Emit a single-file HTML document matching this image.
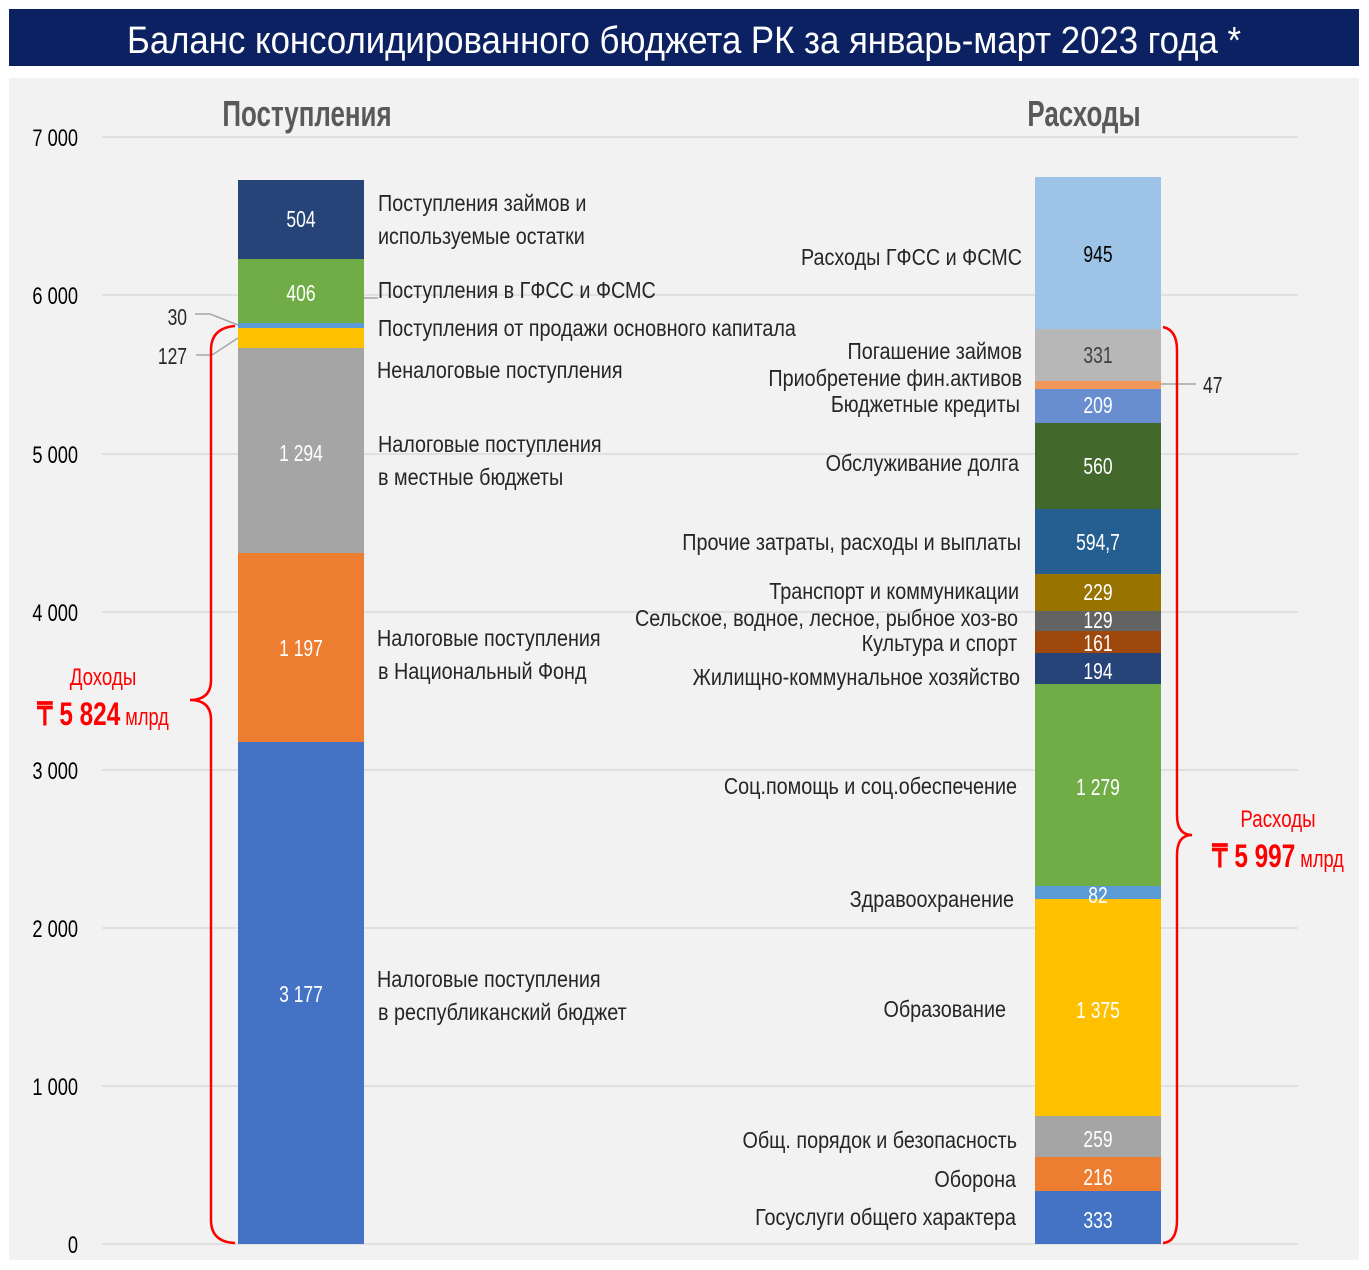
<!DOCTYPE html>
<html><head><meta charset="utf-8"><style>
body{margin:0;background:#fff;}
svg{display:block;font-family:"Liberation Sans Narrow","Liberation Sans",sans-serif;}
</style></head><body>
<svg width="1369" height="1270" viewBox="0 0 1369 1270" xmlns="http://www.w3.org/2000/svg">
<rect x="9" y="9" width="1350" height="57" fill="#0b2161"/>
<text transform="translate(684,53) scale(0.915,1)" text-anchor="middle" fill="#fff" font-size="38">Баланс консолидированного бюджета РК за январь-март 2023 года *</text>
<rect x="9" y="78" width="1350" height="1182" fill="#f2f2f2"/>
<g stroke="#d9d9d9" stroke-width="1.5">
<line x1="102" x2="1298" y1="137" y2="137"/><line x1="102" x2="1298" y1="295" y2="295"/><line x1="102" x2="1298" y1="454" y2="454"/><line x1="102" x2="1298" y1="612" y2="612"/><line x1="102" x2="1298" y1="770" y2="770"/><line x1="102" x2="1298" y1="928" y2="928"/><line x1="102" x2="1298" y1="1086" y2="1086"/><line x1="102" x2="1298" y1="1244" y2="1244"/>
</g>
<g font-size="24" fill="#000" text-anchor="end">
<text transform="translate(78,146) scale(0.76,1)">7 000</text><text transform="translate(78,304) scale(0.76,1)">6 000</text><text transform="translate(78,463) scale(0.76,1)">5 000</text><text transform="translate(78,621) scale(0.76,1)">4 000</text><text transform="translate(78,779) scale(0.76,1)">3 000</text><text transform="translate(78,937) scale(0.76,1)">2 000</text><text transform="translate(78,1095) scale(0.76,1)">1 000</text><text transform="translate(78,1253) scale(0.76,1)">0</text>
</g>
<g font-size="36" font-weight="bold" fill="#595959" text-anchor="middle">
<text transform="translate(307,126) scale(0.72,1)">Поступления</text>
<text transform="translate(1084,126) scale(0.72,1)">Расходы</text>
</g>
<!-- left bar -->
<rect x="238" y="742" width="126" height="502" fill="#4472c4"/>
<rect x="238" y="553" width="126" height="189" fill="#ed7d31"/>
<rect x="238" y="348" width="126" height="205" fill="#a5a5a5"/>
<rect x="238" y="328" width="126" height="20" fill="#ffc000"/>
<rect x="238" y="323" width="126" height="5" fill="#5b9bd5"/>
<rect x="238" y="259" width="126" height="64" fill="#70ad47"/>
<rect x="238" y="180" width="126" height="79" fill="#264478"/>
<!-- right bar -->
<rect x="1035" y="1191" width="126" height="53" fill="#4472c4"/>
<rect x="1035" y="1157" width="126" height="34" fill="#ed7d31"/>
<rect x="1035" y="1116" width="126" height="41" fill="#a5a5a5"/>
<rect x="1035" y="899" width="126" height="217" fill="#ffc000"/>
<rect x="1035" y="886" width="126" height="13" fill="#5b9bd5"/>
<rect x="1035" y="684" width="126" height="202" fill="#70ad47"/>
<rect x="1035" y="653" width="126" height="31" fill="#264478"/>
<rect x="1035" y="631" width="126" height="22" fill="#9e480e"/>
<rect x="1035" y="611" width="126" height="20" fill="#636363"/>
<rect x="1035" y="574" width="126" height="37" fill="#997300"/>
<rect x="1035" y="509" width="126" height="65" fill="#255e91"/>
<rect x="1035" y="423" width="126" height="86" fill="#43682b"/>
<rect x="1035" y="389" width="126" height="34" fill="#698ed0"/>
<rect x="1035" y="381" width="126" height="8" fill="#f1975a"/>
<rect x="1035" y="329" width="126" height="52" fill="#b7b7b7"/>
<rect x="1035" y="177" width="126" height="152" fill="#9dc3e6"/>
<!-- bar values -->
<g font-size="23" fill="#fff" text-anchor="middle">
<text transform="translate(301,227) scale(0.76,1)">504</text>
<text transform="translate(301,301) scale(0.76,1)">406</text>
<text transform="translate(301,461) scale(0.76,1)">1 294</text>
<text transform="translate(301,656) scale(0.76,1)">1 197</text>
<text transform="translate(301,1002) scale(0.76,1)">3 177</text>
<text transform="translate(1098,413) scale(0.76,1)">209</text>
<text transform="translate(1098,474) scale(0.76,1)">560</text>
<text transform="translate(1098,550) scale(0.76,1)">594,7</text>
<text transform="translate(1098,600) scale(0.76,1)">229</text>
<text transform="translate(1098,628) scale(0.76,1)">129</text>
<text transform="translate(1098,651) scale(0.76,1)">161</text>
<text transform="translate(1098,679) scale(0.76,1)">194</text>
<text transform="translate(1098,795) scale(0.76,1)">1 279</text>
<text transform="translate(1098,903) scale(0.76,1)">82</text>
<text transform="translate(1098,1018) scale(0.76,1)">1 375</text>
<text transform="translate(1098,1147) scale(0.76,1)">259</text>
<text transform="translate(1098,1185) scale(0.76,1)">216</text>
<text transform="translate(1098,1228) scale(0.76,1)">333</text>
</g>
<g font-size="23" fill="#000" text-anchor="middle">
<text transform="translate(1098,262) scale(0.76,1)">945</text>
</g>
<g font-size="23" fill="#404040" text-anchor="middle">
<text transform="translate(1098,363) scale(0.76,1)">331</text>
</g>
<!-- left labels -->
<g font-size="23" fill="#262626">
<text transform="translate(378,211) scale(0.86,1)">Поступления займов и</text>
<text transform="translate(378,244) scale(0.86,1)">используемые остатки</text>
<text transform="translate(378,298) scale(0.86,1)">Поступления в ГФСС и ФСМС</text>
<text transform="translate(378,336) scale(0.86,1)">Поступления от продажи основного капитала</text>
<text transform="translate(377,378) scale(0.86,1)">Неналоговые поступления</text>
<text transform="translate(378,452) scale(0.86,1)">Налоговые поступления</text>
<text transform="translate(378,485) scale(0.86,1)">в местные бюджеты</text>
<text transform="translate(377,646) scale(0.86,1)">Налоговые поступления</text>
<text transform="translate(378,679) scale(0.86,1)">в Национальный Фонд</text>
<text transform="translate(377,987) scale(0.86,1)">Налоговые поступления</text>
<text transform="translate(378,1020) scale(0.86,1)">в республиканский бюджет</text>
</g>
<g font-size="23" fill="#262626" text-anchor="end">
<text transform="translate(1022,265) scale(0.86,1)">Расходы ГФСС и ФСМС</text>
<text transform="translate(1022,359) scale(0.86,1)">Погашение займов</text>
<text transform="translate(1022,386) scale(0.86,1)">Приобретение фин.активов</text>
<text transform="translate(1020,412) scale(0.86,1)">Бюджетные кредиты</text>
<text transform="translate(1019,471) scale(0.86,1)">Обслуживание долга</text>
<text transform="translate(1021,550) scale(0.86,1)">Прочие затраты, расходы и выплаты</text>
<text transform="translate(1019,599) scale(0.86,1)">Транспорт и коммуникации</text>
<text transform="translate(1018,626) scale(0.86,1)">Сельское, водное, лесное, рыбное хоз-во</text>
<text transform="translate(1017,651) scale(0.86,1)">Культура и спорт</text>
<text transform="translate(1020,685) scale(0.86,1)">Жилищно-коммунальное хозяйство</text>
<text transform="translate(1017,794) scale(0.86,1)">Соц.помощь и соц.обеспечение</text>
<text transform="translate(1014,907) scale(0.86,1)">Здравоохранение</text>
<text transform="translate(1006,1017) scale(0.86,1)">Образование</text>
<text transform="translate(1017,1148) scale(0.86,1)">Общ. порядок и безопасность</text>
<text transform="translate(1016,1187) scale(0.86,1)">Оборона</text>
<text transform="translate(1016,1225) scale(0.86,1)">Госуслуги общего характера</text>
</g>
<!-- leader lines -->
<g stroke="#a6a6a6" stroke-width="1.5" fill="none">
<polyline points="195,314 210,314 238,325"/>
<polyline points="196,355 212,355 238,338"/>
<line x1="1161" y1="384" x2="1196" y2="384"/>
<line x1="364" y1="298" x2="378" y2="298"/>
</g>
<g font-size="23" fill="#262626">
<text transform="translate(187,325) scale(0.76,1)" text-anchor="end">30</text>
<text transform="translate(187,364) scale(0.76,1)" text-anchor="end">127</text>
<text transform="translate(1203,393) scale(0.76,1)">47</text>
</g>
<!-- brackets -->
<g stroke="#ff0000" stroke-width="2.5" fill="none">
<path d="M235,326 Q211,328 211,350 L211,680 Q211,700 190,700 Q211,700 211,720 L211,1220 Q211,1242 235,1243"/>
<path d="M1163,327 Q1177,330 1177,350 L1177,815 Q1177,835 1192,835 Q1177,835 1177,855 L1177,1220 Q1177,1242 1163,1243"/>
</g>
<g fill="#ff0000" text-anchor="middle">
<text transform="translate(103,685) scale(0.78,1)" font-size="24">Доходы</text>
<text transform="translate(103,725) scale(0.76,1)"><tspan font-size="32" font-weight="bold">₸ 5 824</tspan><tspan font-size="24"> млрд</tspan></text>
<text transform="translate(1278,827) scale(0.78,1)" font-size="24">Расходы</text>
<text transform="translate(1278,867) scale(0.76,1)"><tspan font-size="32" font-weight="bold">₸ 5 997</tspan><tspan font-size="24"> млрд</tspan></text>
</g>
</svg>
</body></html>
